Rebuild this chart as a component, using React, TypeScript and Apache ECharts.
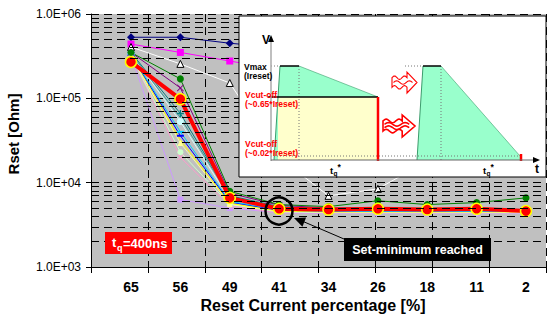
import React, { useEffect, useRef } from 'react';
import * as echarts from 'echarts';

const categories = ['65', '56', '49', '41', '34', '26', '18', '11', '2'];
const yTickDecades = [1000, 10000, 100000, 1000000];
const minorGrid = [2e3, 3e3, 4e3, 5e3, 6e3, 7e3, 8e3, 9e3, 2e4, 3e4, 4e4, 5e4, 6e4, 7e4, 8e4, 9e4, 2e5, 3e5, 4e5, 5e5, 6e5, 7e5, 8e5, 9e5];

const navyDiamond = [5.3e5, 5.3e5, 4.5e5, 4.0e5, 3.5e5, 3.0e5, 2.5e5, 2.0e5, 1.6e5];
const magentaSquare = [4.4e5, 3.5e5, 2.77e5, 2.2e5, 1.8e5, 1.5e5, 1.2e5, 1.0e5, 8.0e4];
const whiteTriangle = [4.06e5, 2.56e5, 1.52e5, 2.0e4, 6.98e3, 8.45e3, 1.8e4, 2.5e4, 3.5e4];
const greenCircle = [3.5e5, 1.7e5, 7.9e3, 5.5e3, 5.2e3, 6.1e3, 5.5e3, 5.8e3, 6.6e3];
const purpleCross = [3.5e5, 1.33e5, 7.5e3, 5.4e3, 5.0e3, 5.0e3, 4.9e3, 4.9e3, 4.8e3];
const tealPlus = [3.5e5, 6.6e4, 7.0e3, 5.2e3, 4.9e3, 4.9e3, 4.8e3, 4.8e3, 4.8e3];
const tealPlain = [3.4e5, 5.9e4, 6.8e3, 5.1e3, 4.8e3, 4.8e3, 4.8e3, 4.8e3, 4.7e3];
const lightCyanCircle = [3.4e5, 5.3e4, 6.3e3, 4.9e3, 4.7e3, 4.7e3, 4.7e3, 4.7e3, 4.7e3];
const cyanDash = [3.3e5, 4.0e4, 6.0e3, 4.8e3, 4.6e3, 4.6e3, 4.6e3, 4.6e3, 4.6e3];
const blueDash = [3.3e5, 3.6e4, 5.9e3, 4.7e3, 4.6e3, 4.6e3, 4.6e3, 4.6e3, 4.6e3];
const yellowPlain = [3.3e5, 3.2e4, 5.7e3, 4.6e3, 4.5e3, 4.5e3, 4.5e3, 4.5e3, 4.5e3];
const paleYellowTriangle = [3.2e5, 2.95e4, 5.6e3, 4.6e3, 4.5e3, 4.5e3, 4.5e3, 4.5e3, 4.5e3];
const paleGreenCircle = [3.2e5, 2.3e4, 5.5e3, 4.5e3, 4.4e3, 4.4e3, 4.4e3, 4.4e3, 4.4e3];
const pinkCross = [3.2e5, 2.0e4, 5.3e3, 4.4e3, 4.4e3, 4.4e3, 4.4e3, 4.4e3, 4.4e3];
const lavenderSquare = [3.2e5, 6.3e3, 5.0e3, 4.4e3, 4.3e3, 4.3e3, 4.3e3, 4.3e3, 4.3e3];
const redMain = [2.7e5, 9.8e4, 6.6e3, 4.9e3, 4.8e3, 4.9e3, 4.8e3, 4.9e3, 4.6e3];

const FF = '"Liberation Sans", Arial, sans-serif';
const CROSS = 'path://M0,1L1,0L5,4L9,0L10,1L6,5L10,9L9,10L5,6L1,10L0,9L4,5Z';
const PLUS = 'path://M4,0H6V4H10V6H6V10H4V6H0V4H4Z';

function wave(x0: number, x1: number, y: number, amp: number, periods: number) {
  const pts: number[][] = [];
  const n = 24;
  for (let i = 0; i <= n; i++) {
    const t = i / n;
    pts.push([x0 + (x1 - x0) * t, y - amp * Math.sin(t * periods * 2 * Math.PI)]);
  }
  return pts;
}

function wavyArrow(x: number, y: number, w: number, h: number, stripes: number, lw: number, Z: number) {
  const bodyEnd = x + w * 0.6;
  const yTop = y + h * 0.27;
  const yBot = y + h * 0.73;
  const amp = h * 0.08;
  const top = wave(x, bodyEnd, yTop, amp, 1.5);
  const bot = wave(x, bodyEnd, yBot, amp, 1.5).reverse();
  const outline = [...top, [bodyEnd, y], [x + w, y + h / 2], [bodyEnd, y + h], ...bot];
  const els: any[] = [
    { type: 'polygon', z: Z, shape: { points: outline }, style: { fill: '#fff', stroke: '#ff0000', lineWidth: lw } },
  ];
  for (let s = 1; s <= stripes; s++) {
    const yy = yTop + ((yBot - yTop) * s) / (stripes + 1);
    els.push({ type: 'polyline', z: Z, shape: { points: wave(x + 1.5, x + w * 0.82, yy, amp, 1.5) }, style: { stroke: '#ff0000', lineWidth: lw, fill: 'none' } });
  }
  return els;
}

function line(name: string, data: number[], color: string, symbol: string, size: any, extra: any = {}) {
  return {
    name,
    type: 'line',
    xAxisIndex: 1,
    yAxisIndex: 1,
    data,
    symbol,
    symbolSize: size,
    showSymbol: symbol !== 'none',
    clip: false,
    z: 3,
    lineStyle: { color, width: 1 },
    itemStyle: { color },
    ...extra,
  };
}

export default function App() {
  const ref = useRef<HTMLDivElement>(null);
  useEffect(() => {
    if (!ref.current) return;
    const chart = echarts.init(ref.current, undefined, { renderer: 'svg' });
    const Z = 100;
    const txt = (text: string, x: number, y: number, o: any = {}) => ({
      type: 'text',
      x,
      y,
      z: Z,
      style: {
        text,
        fill: o.fill || '#000',
        font: `${o.weight || 'bold'} ${o.size || 8.5}px ${FF}`,
        textAlign: o.align || 'left',
        textVerticalAlign: 'middle',
        verticalAlign: 'middle',
      },
      ...(o.rotation ? { rotation: o.rotation } : {}),
    });
    const ln = (x1: number, y1: number, x2: number, y2: number, stroke: string, lineWidth = 1, lineDash?: number[]) => ({
      type: 'line',
      z: Z,
      shape: { x1, y1, x2, y2 },
      style: { stroke, lineWidth, ...(lineDash ? { lineDash } : {}) },
    });

    const option: any = {
      animation: false,
      grid: [
        { left: 91, right: 2, top: 14, bottom: 55, show: true, backgroundColor: '#c0c0c0', borderWidth: 0 },
        { left: 131, right: 22, top: 14, bottom: 55 },
      ],
      xAxis: [
        {
          gridIndex: 0,
          type: 'value',
          min: 0,
          max: 8,
          interval: 1,
          axisLabel: { show: false },
          axisLine: { show: true, onZero: false, lineStyle: { color: '#000', width: 1 } },
          axisTick: { show: true, length: 6, lineStyle: { color: '#000' } },
          splitLine: { show: true, lineStyle: { color: '#000', type: [8, 5], width: 1 } },
        },
        {
          gridIndex: 1,
          type: 'category',
          data: categories,
          boundaryGap: false,
          axisLine: { show: false },
          axisTick: { show: false },
          splitLine: { show: false },
          axisLabel: { color: '#000', fontWeight: 'bold', fontSize: 14, margin: 13, fontFamily: FF },
        },
      ],
      yAxis: [
        {
          gridIndex: 0,
          type: 'log',
          logBase: 10,
          min: yTickDecades[0],
          max: yTickDecades[yTickDecades.length - 1],
          axisLine: { show: true, lineStyle: { color: '#000' } },
          axisTick: { show: true, length: 5, lineStyle: { color: '#000' } },
          axisLabel: {
            color: '#000',
            fontSize: 12,
            margin: 10,
            fontFamily: FF,
            formatter: (v: number) => '1.0E+' + String(Math.round(Math.log10(v))).padStart(2, '0'),
          },
          splitLine: { show: true, lineStyle: { color: '#000', type: [8, 5], width: 1 } },
        },
        { gridIndex: 1, type: 'log', logBase: 10, min: 1000, max: 1e6, show: false },
      ],
      series: [
        {
          type: 'line',
          xAxisIndex: 0,
          yAxisIndex: 0,
          data: [[0, 1000]],
          symbol: 'none',
          silent: true,
          z: 1,
          lineStyle: { opacity: 0 },
          markLine: {
            silent: true,
            symbol: 'none',
            animation: false,
            label: { show: false },
            lineStyle: { color: '#000', type: [8, 5], width: 1 },
            data: minorGrid.map((v) => ({ yAxis: v })),
          },
        },
        line('navy', navyDiamond, '#000080', 'diamond', 8),
        line('magenta', magentaSquare, '#ff00ff', 'rect', 7),
        line('white', whiteTriangle, '#ffffff', 'triangle', 7, {
          itemStyle: { color: '#ffffff', borderColor: '#000', borderWidth: 1 },
        }),
        line('lavender', lavenderSquare, '#cc99ff', 'rect', 6),
        line('pink', pinkCross, '#ff99cc', CROSS, 6),
        line('palegreen', paleGreenCircle, '#ccffcc', 'circle', 6),
        line('paleyellow', paleYellowTriangle, '#ffff99', 'triangle', 6),
        line('yellow', yellowPlain, '#ffff00', 'none', 0),
        line('blue', blueDash, '#0000ff', 'rect', [7, 2]),
        line('cyan', cyanDash, '#00ccff', 'rect', [7, 2]),
        line('lightcyan', lightCyanCircle, '#ccffff', 'circle', 7),
        line('teal2', tealPlain, '#339999', 'none', 0),
        line('teal', tealPlus, '#008080', PLUS, 7),
        line('purple', purpleCross, '#800080', CROSS, 7),
        line('green', greenCircle, '#008000', 'circle', 7),
        line('red', redMain, '#ff0000', 'circle', 11, {
          z: 4,
          lineStyle: { color: '#ff0000', width: 4 },
          itemStyle: { color: '#ff0000', borderColor: '#ffff00', borderWidth: 1.5 },
        }),
      ],
      graphic: [
        // inset
        { type: 'rect', z: Z, shape: { x: 239, y: 16, width: 307, height: 161 }, style: { fill: '#fff', stroke: '#000', lineWidth: 1 } },
        { type: 'polygon', z: Z, shape: { points: [[274, 160], [280, 66], [299, 66], [378, 97], [378, 160]] }, style: { fill: '#99ffcc' } },
        { type: 'rect', z: Z, shape: { x: 278, y: 97, width: 100, height: 63 }, style: { fill: '#ffffcc' } },
        ln(274, 160, 280, 66, '#3c9c6c', 1),
        { type: 'polygon', z: Z, shape: { points: [[417, 160], [423, 66], [441, 66], [520, 156], [520, 160]] }, style: { fill: '#99ffcc' } },
        ln(417, 160, 423, 66, '#3c9c6c', 1),
        ln(441, 66, 520, 156, '#3c9c6c', 0.6),
        ln(299, 66, 378, 97, '#3c9c6c', 0.6),
        ln(271, 66, 280, 66, '#777', 1, [1, 2]),
        ln(405, 66, 423, 66, '#777', 1, [1, 2]),
        ln(299, 66, 299, 160, '#777', 1, [1, 2]),
        ln(441, 66, 441, 160, '#777', 1, [1, 2]),
        ln(271, 156, 521, 156, '#777', 1, [1, 2]),
        ln(268, 97, 378, 97, '#000', 1.5),
        ln(280, 66, 299, 66, '#000', 1.5),
        ln(423, 66, 441, 66, '#000', 1.5),
        ln(378, 97, 378, 161, '#ff0000', 2.5),
        ln(521, 154, 521, 161, '#ff0000', 2.5),
        ln(271, 161, 271, 40, '#aaa', 1.5),
        { type: 'polygon', z: Z, shape: { points: [[268, 42], [274, 42], [271, 35]] }, style: { fill: '#000' } },
        ln(271, 160, 535, 160, '#666', 1),
        { type: 'polygon', z: Z, shape: { points: [[533, 157], [533, 163], [540, 160]] }, style: { fill: '#000' } },
        txt('V', 262, 40, { size: 12 }),
        txt('t', 535, 169, { size: 12 }),
        txt('Vmax', 244, 67),
        txt('(Ireset)', 244, 76),
        txt('Vcut-off', 245, 95, { fill: '#ff0000' }),
        txt('(~0.65*Ireset)', 245, 104, { fill: '#ff0000' }),
        txt('Vcut-off', 245, 144, { fill: '#ff0000' }),
        txt('(~0.02*Ireset)', 245, 153, { fill: '#ff0000' }),
        txt('t', 330, 170, { size: 9.5 }),
        txt('q', 333.5, 173, { size: 6.5 }),
        txt('*', 337.5, 167, { size: 8.5 }),
        txt('t', 483, 170, { size: 9.5 }),
        txt('q', 486.5, 173, { size: 6.5 }),
        txt('*', 490.5, 167, { size: 8.5 }),
        ...wavyArrow(392, 72, 25, 21, 1, 1.1, Z),
        ...wavyArrow(383, 115, 32, 22, 2, 1.6, Z),
        // tq box
        { type: 'rect', z: Z, shape: { x: 105, y: 232, width: 67, height: 22 }, style: { fill: '#ff0000' } },
        txt('t', 112, 242, { size: 13, fill: '#fff' }),
        txt('q', 117, 248, { size: 9, fill: '#fff' }),
        txt('=400ns', 123, 243, { size: 13, fill: '#fff' }),
        // circle + arrow + label
        { type: 'circle', z: Z, shape: { cx: 279, cy: 211, r: 13.5 }, style: { fill: 'none', stroke: '#000', lineWidth: 2.5 } },
        ln(344, 239, 302, 221, '#000', 1),
        { type: 'polygon', z: Z, shape: { points: [[294, 218], [302.4, 226.7], [306.1, 217.5]] }, style: { fill: '#000' } },
        { type: 'rect', z: Z, shape: { x: 344, y: 238, width: 147, height: 23 }, style: { fill: '#000' } },
        txt('Set-minimum reached', 417.5, 250, { size: 12.5, fill: '#fff', align: 'center' }),
        // axis titles
        txt('Reset Current percentage [%]', 313, 305, { size: 16, align: 'center' }),
        txt('Rset [Ohm]', 13, 134, { size: 15, align: 'center', rotation: Math.PI / 2 }),
      ],
    };
    chart.setOption(option);
    return () => chart.dispose();
  }, []);
  return <div ref={ref} style={{ position: 'absolute', left: 0, top: 0, width: 548, height: 322 }} />;
}
